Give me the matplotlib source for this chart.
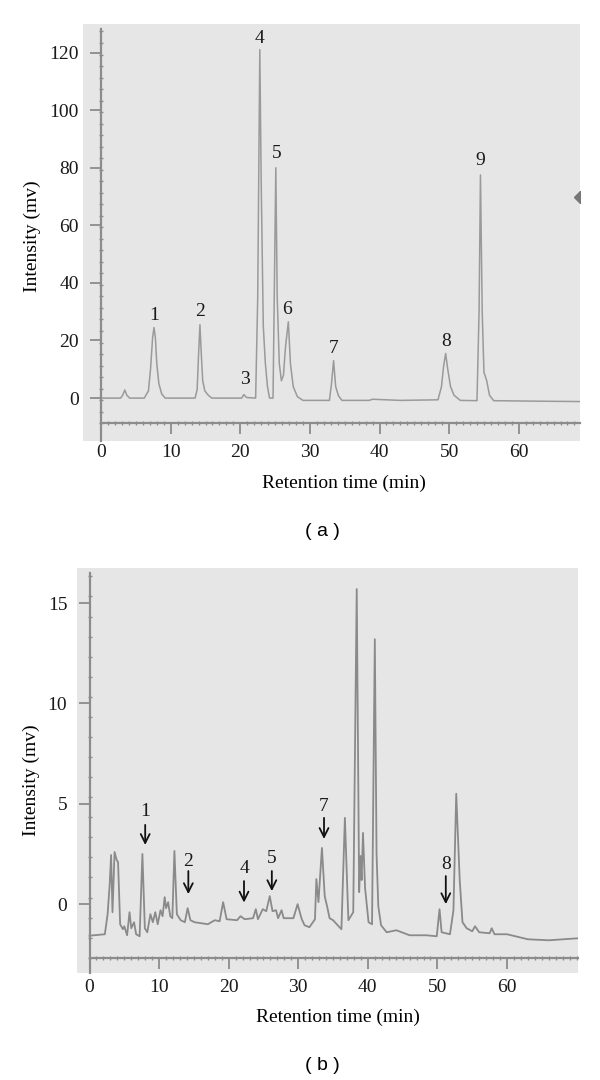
import matplotlib
matplotlib.use("Agg")
import numpy as np
import matplotlib.pyplot as plt
from matplotlib.ticker import FixedLocator

# ---- panel (a): standard mixture, trace (min, mv)
time_a = [0.0, 2.8, 3.1, 3.4, 3.7, 4.1, 6.2, 6.8, 7.1, 7.4, 7.6, 7.8, 8.0, 8.3, 8.7, 9.2,
          13.5, 13.8, 14.0, 14.2, 14.4, 14.6, 14.9, 15.4, 15.9,
          20.2, 20.5, 20.9,
          22.2, 22.5, 22.8, 23.0, 23.3, 23.6, 23.9, 24.2,
          24.7, 24.9, 25.1, 25.3, 25.6, 25.9, 26.2,
          26.5, 26.9, 27.2, 27.6, 28.2, 29.0,
          32.8, 33.1, 33.4, 33.7, 34.1, 34.6,
          38.5, 39.0, 43.0, 48.4, 48.9, 49.2, 49.5, 49.8, 50.2, 50.7, 51.6,
          54.0, 54.3, 54.5, 54.75, 55.0, 55.4, 55.8, 56.4, 60.0, 64.0, 68.8]
signal_a = [0.0, 0.0, 1.0, 2.8, 1.0, 0.0, 0.0, 2.5, 10.0, 21.0, 24.5, 21.0, 12.0, 5.0, 1.5, 0.0,
            0.0, 3.0, 15.0, 25.5, 15.0, 6.0, 2.5, 1.0, 0.0,
            0.0, 1.2, 0.2,
            0.0, 35.0, 121.0, 75.0, 25.0, 12.0, 4.0, 0.0,
            0.0, 40.0, 80.0, 35.0, 12.0, 6.0, 8.0,
            18.0, 26.5, 12.0, 4.0, 0.5, -0.8,
            -0.8, 5.0, 13.0, 4.0, 0.8, -0.8,
            -0.8, -0.4, -0.8, -0.6, 4.0, 11.0, 15.5, 10.0, 4.0, 1.0, -0.8,
            -0.9, 30.0, 77.5, 30.0, 9.0, 6.0, 1.0, -0.9, -1.0, -1.1, -1.2]
peak_ids_a = ["1", "2", "3", "4", "5", "6", "7", "8", "9"]
peak_x_a = [7.6, 14.2, 20.6, 22.8, 25.2, 26.7, 33.4, 49.5, 54.5]
peak_y_a = [28.8, 30.0, 6.3, 125.0, 85.0, 30.6, 17.3, 19.5, 82.5]

# ---- panel (b): sample extract
time_b = [0.0, 2.2, 2.6, 2.9, 3.1, 3.3, 3.6, 3.9, 4.1, 4.4, 4.8, 5.0, 5.4, 5.75, 6.0, 6.4,
          6.7, 7.2, 7.6, 7.95, 8.3, 8.75, 9.1, 9.45, 9.8, 10.2, 10.5, 10.8, 11.0, 11.3,
          11.6, 11.9, 12.2, 12.55, 13.1, 13.7, 14.1, 14.5, 15.1, 17.0, 18.0, 18.7, 19.2,
          19.7, 21.2, 21.7, 22.3, 23.5, 23.9, 24.2, 24.9, 25.4, 25.9, 26.3, 26.8, 27.1,
          27.6, 27.9, 28.8, 29.3, 29.9, 30.5, 30.9, 31.6, 32.4, 32.6, 32.9, 33.4, 33.8,
          34.2, 34.5, 35.0, 36.2, 36.7, 37.2, 37.9, 38.4, 38.75, 38.95, 39.1, 39.3, 39.6,
          40.1, 40.6, 41.0, 41.25, 41.5, 41.9, 42.7, 44.1, 46.0, 48.4, 49.9, 50.3, 50.6,
          51.8, 52.3, 52.7, 53.2, 53.6, 54.2, 55.0, 55.4, 56.0, 57.5, 57.8, 58.2, 60.0,
          63.0, 66.0, 70.2]
signal_b = [-1.57, -1.5, -0.5, 1.0, 2.45, -0.4, 2.6, 2.2, 2.1, -1.0, -1.25, -1.1, -1.55, -0.4, -1.2, -0.9,
            -1.5, -1.6, 2.5, -1.2, -1.4, -0.5, -0.9, -0.4, -1.0, -0.3, -0.6, 0.35, -0.2, 0.1,
            -0.6, -0.7, 2.65, -0.5, -0.8, -0.9, -0.2, -0.8, -0.9, -1.0, -0.8, -0.85, 0.1,
            -0.75, -0.8, -0.6, -0.75, -0.7, -0.25, -0.75, -0.25, -0.35, 0.4, -0.35, -0.3, -0.7,
            -0.3, -0.7, -0.7, -0.7, 0.0, -0.75, -1.05, -1.15, -0.75, 1.25, 0.1, 2.8, 0.4,
            -0.2, -0.7, -0.8, -1.25, 4.3, -0.8, -0.4, 15.7, 0.6, 2.4, 1.2, 3.55, 0.8,
            -0.9, -1.0, 13.2, 2.5, -0.1, -1.05, -1.4, -1.3, -1.55, -1.55, -1.6, -0.25, -1.4,
            -1.5, -0.3, 5.5, 1.2, -0.9, -1.2, -1.35, -1.1, -1.4, -1.45, -1.2, -1.5, -1.5,
            -1.75, -1.8, -1.7]
arrow_ids_b = ["1", "2", "4", "5", "7", "8"]
arrow_x_b = [8.0, 14.2, 22.2, 26.2, 33.7, 51.2]
arrow_label_y_b = [4.6, 2.15, 1.8, 2.3, 4.85, 2.0]
arrow_tail_b = [3.95, 1.65, 1.15, 1.65, 4.3, 1.4]
arrow_tip_b = [2.95, 0.5, 0.08, 0.65, 3.25, 0.0]

BG = "#e6e6e6"
RULER = "#8c8c8c"
SERIF = ["Liberation Serif", "DejaVu Serif"]
FS = 14

plt.rcParams["font.family"] = SERIF

fig = plt.figure(figsize=(6, 10.8), dpi=100)


def rect(left, top, right, bottom):
    # pixel box -> figure fraction
    return [left / 600, 1 - bottom / 1080, (right - left) / 600, (bottom - top) / 1080]


def ruler_axes(ax, xlim, ylim, ruler_y, ytop, yticks, ystep):
    ax.set_facecolor(BG)
    ax.set_xlim(*xlim)
    ax.set_ylim(*ylim)
    ax.spines["top"].set_visible(False)
    ax.spines["right"].set_visible(False)
    ax.spines["left"].set_position(("data", 0))
    ax.spines["bottom"].set_position(("data", ruler_y))
    ax.spines["left"].set_bounds(ylim[0], ytop)
    ax.spines["bottom"].set_bounds(0, xlim[1])
    for s in ["left", "bottom"]:
        ax.spines[s].set_color(RULER)
        ax.spines[s].set_linewidth(1.6)
    ax.set_xticks([0, 10, 20, 30, 40, 50, 60])
    ax.xaxis.set_minor_locator(FixedLocator(np.arange(1, xlim[1], 1)))
    ax.set_yticks(yticks)
    ax.yaxis.set_minor_locator(FixedLocator(np.arange(ruler_y, ytop, ystep)))
    ax.tick_params(which="major", length=8, width=1.3, color=RULER, labelsize=FS, labelcolor="#1a1a1a")
    ax.tick_params(axis="x", which="major", pad=7)
    ax.tick_params(axis="y", which="major", pad=8)
    ax.tick_params(which="minor", length=3.5, width=1.0, color=RULER, direction="inout")


# ---- (a)
ax1 = fig.add_axes(rect(83, 24, 580, 441))
ruler_axes(ax1, (-2.6, 68.8), (-14.9, 129.9), -8.7, 128, [0, 20, 40, 60, 80, 100, 120], 4)
ax1.plot(time_a, signal_a, color="#9a9a9a", lw=1.1)
for lab, x, y in zip(peak_ids_a, peak_x_a, peak_y_a):
    ax1.text(x, y, lab, ha="center", va="center", fontsize=FS, color="#1a1a1a")
ax1.plot([68.8], [70], marker="D", ms=6, color="#777777", clip_on=True)

fig.text(32 / 600, 1 - 236 / 1080, "Intensity (mv)", rotation=90, ha="center", va="center", fontsize=FS)
fig.text(344 / 600, 1 - 483 / 1080, "Retention time (min)", ha="center", va="center", fontsize=FS)
fig.text(322 / 600, 1 - 532 / 1080, "( a )", ha="center", va="center", fontsize=14,
         family=["Liberation Sans", "DejaVu Sans"])

# ---- (b)
ax2 = fig.add_axes(rect(77, 568, 578, 973))
ruler_axes(ax2, (-1.8, 70.2), (-3.43, 16.75), -2.67, 16.5, [0, 5, 10, 15], 1)
ax2.plot(time_b, signal_b, color="#8a8a8a", lw=1.3)
for lab, x, ly, y0, y1 in zip(arrow_ids_b, arrow_x_b, arrow_label_y_b, arrow_tail_b, arrow_tip_b):
    ax2.text(x, ly, lab, ha="center", va="center", fontsize=FS, color="#1a1a1a")
    ax2.annotate("", xy=(x, y1), xytext=(x, y0),
                 arrowprops=dict(arrowstyle="->", lw=1.3, color="#111111", mutation_scale=16,
                                 shrinkA=0, shrinkB=0))

fig.text(31 / 600, 1 - 780 / 1080, "Intensity (mv)", rotation=90, ha="center", va="center", fontsize=FS)
fig.text(338 / 600, 1 - 1017 / 1080, "Retention time (min)", ha="center", va="center", fontsize=FS)
fig.text(322 / 600, 1 - 1066 / 1080, "( b )", ha="center", va="center", fontsize=14,
         family=["Liberation Sans", "DejaVu Sans"])

fig.savefig("out.png", dpi=100)
